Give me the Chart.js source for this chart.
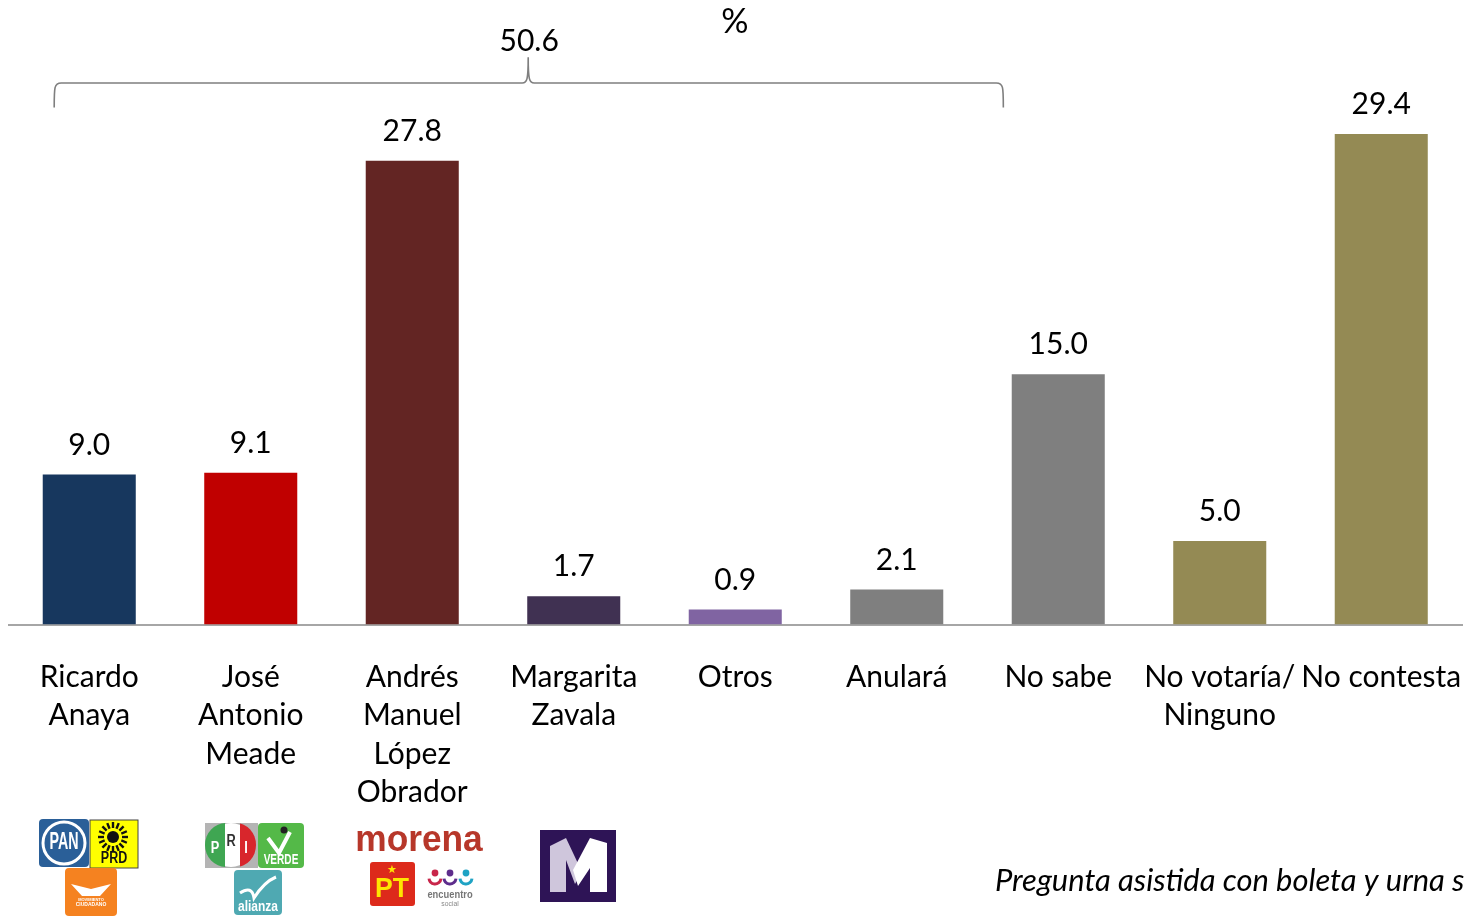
<!DOCTYPE html>
<html><head><meta charset="utf-8">
<style>html,body{margin:0;padding:0;background:#fff;overflow:hidden}#w{position:relative;width:1470px;height:916px}canvas{display:block}</style>
<script src="https://cdn.jsdelivr.net/npm/chart.js@4"></script></head>
<body><div id="w"><canvas id="c" width="1470" height="916"></canvas></div>
<script>
const categories=[["Ricardo","Anaya"],["José","Antonio","Meade"],["Andrés","Manuel","López","Obrador"],["Margarita","Zavala"],"Otros","Anulará","No sabe",["No votaría/","Ninguno"],"No contesta"];
const values=[9.0,9.1,27.8,1.7,0.9,2.1,15.0,5.0,29.4];
const barColors=["#17375e","#c00000","#632523","#403152","#8064a2","#7f7f7f","#7f7f7f","#948a54","#948a54"];
const bracketTotal="50.6";
const unitLabel="%";
const note="Pregunta asistida con boleta y urna s";
const FONT='Lato, "Open Sans", sans-serif';
const LOGO='"Liberation Sans"';

function rr(x,a,b,w,h,r,col){x.fillStyle=col;x.beginPath();x.roundRect(a,b,w,h,r);x.fill();}
function tx(x,s,a,b,font,col,sq){x.save();x.translate(a,b);x.scale(sq||1,1);x.font=font;x.fillStyle=col;x.textAlign='center';x.textBaseline='middle';x.fillText(s,0,0);x.restore();}
function logos(x){
  x.save();
  // PAN
  rr(x,39,819,50,48,4,'#2a5f98');
  x.strokeStyle='#fff';x.lineWidth=3;x.beginPath();x.ellipse(64,843,21,21,0,0,7);x.stroke();
  tx(x,'PAN',64,843,'bold 23px '+LOGO,'#fff',0.62);
  // PRD
  x.fillStyle='#ffff00';x.fillRect(90,820,48,48);x.strokeStyle='#444';x.lineWidth=1;x.strokeRect(90,820,48,48);
  x.strokeStyle='#111';x.lineWidth=2.4;
  for(let i=0;i<16;i++){const t=i*Math.PI/8;x.beginPath();x.moveTo(113+Math.cos(t)*9,837+Math.sin(t)*9);x.lineTo(113+Math.cos(t)*15,837+Math.sin(t)*15);x.stroke();}
  x.fillStyle='#111';x.beginPath();x.arc(113,837,6,0,7);x.fill();
  tx(x,'PRD',114,859,'bold 16px '+LOGO,'#111',0.78);
  // MC
  rr(x,65,868,52,48,4,'#f58220');
  x.fillStyle='#fff';x.beginPath();x.moveTo(71,884);x.lineTo(91,889);x.lineTo(111,884);x.lineTo(100,896);x.lineTo(82,896);x.closePath();x.fill();
  tx(x,'MOVIMIENTO',91,900,'bold 4px '+LOGO,'#fff');
  tx(x,'CIUDADANO',91,905,'bold 5px '+LOGO,'#fff');
  // PRI
  x.fillStyle='#b4b4b4';x.fillRect(205,823,53,45);
  x.fillStyle='#fff';x.beginPath();x.ellipse(231,845,22,22,0,0,7);x.fill();
  x.save();x.beginPath();x.rect(205,823,20,45);x.clip();x.fillStyle='#3fa652';x.beginPath();x.ellipse(226,845,21,22,0,0,7);x.fill();x.restore();
  x.save();x.beginPath();x.rect(240,823,18,45);x.clip();x.fillStyle='#d8262c';x.beginPath();x.ellipse(236,845,20,22,0,0,7);x.fill();x.restore();
  tx(x,'P',215,849,'bold 16px '+LOGO,'#fff',0.8);
  tx(x,'R',231,842,'bold 16px '+LOGO,'#333',0.8);
  tx(x,'I',246,849,'bold 16px '+LOGO,'#fff',0.8);
  // VERDE
  rr(x,258,823,46,45,4,'#54b948');
  x.strokeStyle='#fff';x.lineWidth=4;x.beginPath();x.moveTo(268,838);x.lineTo(279,853);x.lineTo(290,832);x.stroke();
  x.fillStyle='#222';x.beginPath();x.arc(284,830,3.5,0,7);x.fill();
  tx(x,'VERDE',281,860,'bold 14px '+LOGO,'#fff',0.72);
  // Nueva Alianza
  rr(x,234,870,48,45,4,'#4fa9b2');
  x.strokeStyle='#fff';x.lineWidth=3;x.beginPath();x.moveTo(240,893);x.quadraticCurveTo(252,885,254,898);x.quadraticCurveTo(264,882,276,877);x.stroke();
  tx(x,'alianza',258,907,'bold 15px '+LOGO,'#fff',0.8);
  // morena
  tx(x,'morena',419,841,'bold 36px '+LOGO,'#b7372a',0.98);
  // PT
  rr(x,370,862,45,44,3,'#dd2a1b');
  tx(x,'★',392,870,'11px "DejaVu Sans"','#ffe600');
  tx(x,'PT',392,889,'bold 28px '+LOGO,'#ffe600',0.95);
  // Encuentro social
  [['#c8264a',435],['#5e2d8c',450],['#1fa3c4',466]].forEach(([c,a])=>{
    x.strokeStyle=c;x.lineWidth=3;x.beginPath();x.arc(a,878,6,0.1,Math.PI-0.1);x.stroke();
    x.fillStyle=c;x.beginPath();x.arc(a,873,3.4,0,7);x.fill();
  });
  tx(x,'encuentro',450,895,'bold 11px '+LOGO,'#777',0.85);
  tx(x,'social',450,904,'8px '+LOGO,'#888',0.85);
  // Margarita M
  x.fillStyle='#2e1456';x.fillRect(540,830,76,72);
  x.fillStyle='#cfc6dc';x.beginPath();x.moveTo(550,846);x.lineTo(566,838);x.lineTo(582,872);x.lineTo(575,884);x.lineTo(566,860);x.lineTo(566,892);x.lineTo(550,892);x.closePath();x.fill();
  x.fillStyle='#fff';x.beginPath();x.moveTo(590,838);x.lineTo(607,843);x.lineTo(607,892);x.lineTo(590,892);x.lineTo(590,868);x.lineTo(578,886);x.lineTo(573,870);x.closePath();x.fill();
  x.restore();
}
const annotate={id:'annotate',afterDatasetsDraw(ch){
  const x=ch.ctx,meta=ch.getDatasetMeta(0),sx=ch.scales.x,sy=ch.scales.y;
  x.save();
  meta.data.forEach((b,i)=>tx(x,values[i].toFixed(1),sx.getPixelForValue(i),b.y-29.5,'30px '+FONT,'#000'));
  // bracket over the first six categories
  const l=sx.getPixelForValue(-0.217),r=sx.getPixelForValue(5.66),m=sx.getPixelForValue(2.718),t=sy.getPixelForValue(32.46),b=sy.getPixelForValue(31.0),tip=sy.getPixelForValue(34.0);
  x.strokeStyle='#7f7f7f';x.lineWidth=1.6;x.beginPath();
  x.moveTo(l,b);x.bezierCurveTo(l,t+4,l,t,l+7,t);x.lineTo(m-6,t);x.bezierCurveTo(m-1,t,m,t-4,m,tip);
  x.bezierCurveTo(m,t-4,m+1,t,m+6,t);x.lineTo(r-7,t);x.bezierCurveTo(r,t,r,t+4,r,b);x.stroke();
  tx(x,bracketTotal,m+1,41,'30px '+FONT,'#000');
  tx(x,unitLabel,735,22,'34px '+FONT,'#000');
  x.font='italic 30.9px '+FONT;x.fillStyle='#000';x.textAlign='left';x.textBaseline='middle';x.fillText(note,995,881);
  logos(x);
  x.restore();
}};
new Chart(document.getElementById('c'),{type:'bar',
 data:{labels:categories,datasets:[{data:values,backgroundColor:barColors,borderWidth:0,barPercentage:1,categoryPercentage:0.576}]},
 options:{responsive:false,animation:false,
  layout:{padding:{left:8.5,right:8,top:24,bottom:0}},
  plugins:{legend:{display:false},tooltip:{enabled:false}},
  scales:{
   y:{display:false,min:0,max:36},
   x:{grid:{display:false,drawTicks:false},border:{display:true,color:'#a6a6a6',width:2},
      afterFit(s){s.height=291.5;s.paddingLeft=0;s.paddingRight=0;},
      ticks:{autoSkip:false,maxRotation:0,minRotation:0,color:'#000',padding:33.5,font:{family:FONT,size:30,lineHeight:1.28}}}
  }},
 plugins:[annotate]});
</script></body></html>
